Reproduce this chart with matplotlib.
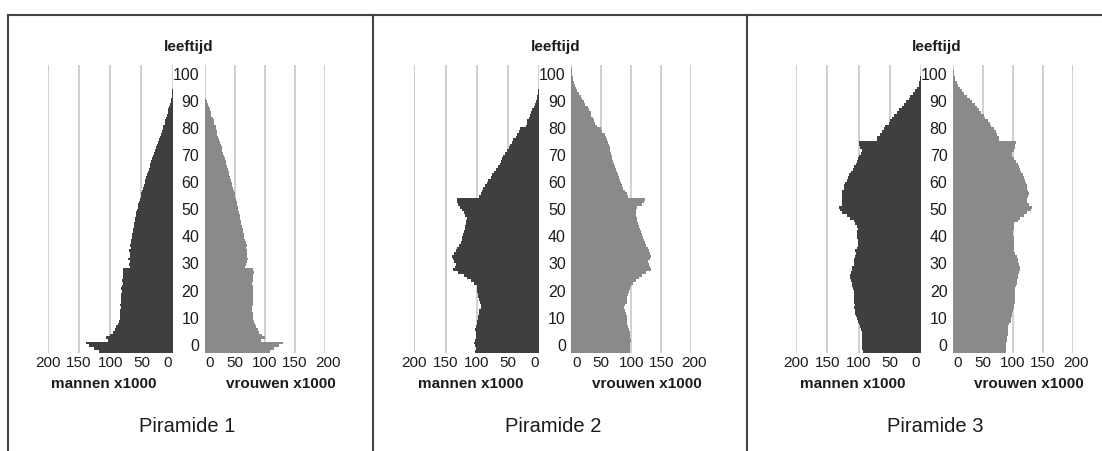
import matplotlib
matplotlib.use("Agg")
import matplotlib.pyplot as plt
from matplotlib.lines import Line2D
from matplotlib.transforms import blended_transform_factory, ScaledTranslation
import numpy as np

# bar rows from the bottom of each pyramid (one row per year)
n_rows = 106
age_ticks = [0, 10, 20, 30, 40, 50, 60, 70, 80, 90, 100]
x_ticks = [0, 50, 100, 150, 200]
titles = ["Piramide 1", "Piramide 2", "Piramide 3"]

men_1 = [118, 126, 134, 138, 104, 106, 100, 96, 93, 91,
         88, 86, 85, 85, 84, 85, 83, 84, 82, 83,
         82, 83, 81, 82, 81, 80, 81, 80, 79, 80,
         79, 68, 70, 69, 71, 69, 68, 70, 67, 68,
         66, 66, 65, 65, 64, 63, 62, 62, 61, 60,
         59, 58, 57, 56, 55, 54, 53, 51, 50, 49,
         48, 46, 45, 44, 42, 41, 40, 38, 37, 36,
         35, 33, 32, 30, 29, 27, 25, 24, 22, 21,
         19, 17, 16, 15, 13, 12, 10, 9, 8, 7,
         6, 4.5, 3.5, 2.5, 1.8, 1.2, 0.7, 0.3]
women_1 = [108, 116, 124, 130, 94, 100, 95, 90, 88, 86,
           83, 82, 81, 80, 80, 79, 79, 80, 80, 81,
           80, 81, 80, 81, 80, 79, 80, 81, 80, 82,
           81, 67, 69, 70, 72, 71, 70, 71, 69, 70,
           68, 67, 66, 65, 64, 63, 62, 61, 60, 59,
           58, 57, 56, 55, 54, 53, 52, 51, 50, 48,
           47, 46, 45, 44, 42, 41, 40, 38, 37, 36,
           35, 33, 32, 31, 29, 28, 27, 25, 24, 22,
           21, 20, 19, 18, 16, 15, 13, 11, 10, 8,
           6.5, 5, 3.5, 2.5, 1.2, 0.5]

men_2 = [103, 102, 103, 104, 103, 102, 101, 102, 103, 101,
         100, 99, 98, 98, 97, 96, 94, 93, 95, 97,
         98, 98, 99, 99, 100, 104, 110, 116, 120, 130,
         138, 135, 134, 136, 138, 139, 136, 134, 131, 128,
         126, 124, 123, 122, 120, 119, 119, 117, 118, 116,
         119, 121, 123, 127, 130, 131, 131, 96, 93, 91,
         90, 87, 84, 82, 77, 75, 72, 70, 66, 63,
         61, 59, 58, 55, 52, 49, 47, 44, 42, 38,
         35, 33, 31, 22, 20, 19, 17, 15, 13, 11,
         9, 7.5, 6, 4, 3, 2, 1.5, 1, 0.7, 0.5, 0.3]
women_2 = [97, 98, 98, 98, 99, 98, 98, 97, 96, 94,
           93, 93, 92, 92, 91, 89, 88, 90, 92, 92,
           93, 94, 96, 97, 99, 103, 107, 112, 118, 125,
           132, 131, 129, 128, 131, 132, 131, 130, 128, 125,
           122, 121, 119, 118, 116, 114, 112, 111, 110, 109,
           108, 108, 108, 110, 118, 121, 123, 94, 92, 89,
           86, 84, 82, 81, 79, 78, 76, 75, 73, 71,
           69, 68, 67, 66, 65, 64, 63, 61, 59, 58,
           56, 51, 50, 42, 40, 38, 36, 33, 32, 29,
           27, 23, 21, 18, 16, 12, 10, 8, 6, 4,
           3, 2, 1, 0.8, 0.5, 0.3]

men_3 = [93, 94, 94, 94, 95, 95, 94, 95, 96, 98,
         99, 101, 103, 104, 106, 106, 107, 106, 108, 107,
         108, 107, 108, 109, 111, 111, 112, 113, 113, 112,
         111, 110, 108, 107, 107, 106, 104, 106, 103, 101,
         101, 101, 102, 103, 102, 101, 103, 106, 108, 114,
         119, 126, 130, 131, 127, 127, 126, 126, 127, 126,
         124, 123, 121, 119, 117, 115, 112, 109, 107, 104,
         103, 101, 99, 96, 95, 98, 99, 100, 71, 70,
         66, 63, 60, 57, 52, 50, 46, 43, 39, 35,
         31, 27, 24, 20, 17, 13, 10, 7, 4, 3,
         2, 1, 0.5, 0.3]
women_3 = [88, 88, 88, 89, 90, 90, 91, 91, 91, 92,
           94, 96, 97, 98, 99, 100, 102, 102, 103, 103,
           104, 104, 104, 104, 105, 106, 107, 108, 109, 110,
           111, 111, 110, 109, 108, 106, 104, 102, 101, 101,
           101, 102, 101, 100, 100, 101, 101, 102, 108, 112,
           119, 124, 130, 131, 127, 124, 124, 125, 126, 125,
           124, 123, 122, 120, 118, 116, 114, 112, 110, 108,
           105, 102, 99, 99, 102, 103, 103, 105, 77, 76,
           73, 72, 68, 64, 61, 58, 54, 51, 47, 43,
           40, 36, 31, 28, 24, 19, 15, 11, 8, 6,
           4, 3, 2, 1, 0.5]

men = [men_1, men_2, men_3]
women = [women_1, women_2, women_3]

W, H = 1102, 451
FONT = ["Liberation Sans", "DejaVu Sans"]
TEXT_COLOR = "#1c1c1c"
MEN_COLOR = "#3f3f3f"
WOMEN_COLOR = "#8a8a8a"
GRID_COLOR = "#c4c4c4"
LINE_COLOR = "#444444"

fig = plt.figure(figsize=(W / 100, H / 100), dpi=100)


def box(x0, x1, y0, y1):
    # pixel box (y from top) -> figure fraction rect
    return [x0 / W, 1 - y1 / H, (x1 - x0) / W, (y1 - y0) / H]


def fx(x):
    return x / W


def fy(y):
    return 1 - y / H


def padded(vals):
    out = np.zeros(n_rows)
    out[:len(vals)] = vals
    return out


def half(rect, vals, color, flip):
    ax = fig.add_axes(rect)
    ax.barh(np.arange(n_rows), padded(vals), height=1.0, align="edge",
            color=color, linewidth=0, zorder=2)
    ax.set_ylim(0, n_rows)
    if flip:
        ax.set_xlim(200, 0)
    else:
        ax.set_xlim(0, 200)
    ax.set_xticks(x_ticks)
    ax.set_xticklabels([str(t) for t in x_ticks], family=FONT, fontsize=11)
    ax.set_yticks([])
    ax.tick_params(axis="x", length=0, pad=2.5, colors=TEXT_COLOR)
    ax.grid(axis="x", color=GRID_COLOR, linewidth=1.1, zorder=0)
    ax.set_axisbelow(True)
    for s in ax.spines.values():
        s.set_visible(False)
    # the "0" labels sit a little away from the centre gap
    shift = {0: (-5 if flip else 5), 200: (0 if flip else 3)}
    for t, lab in zip(x_ticks, ax.get_xticklabels()):
        if t in shift:
            lab.set_transform(lab.get_transform() +
                              ScaledTranslation(shift[t] / 100, 0, fig.dpi_scale_trans))
    return ax


left_x = [47.7, 414.3, 796.0]
top, bottom = 65.0, 352.5

for i in range(3):
    lx = left_x[i]
    half(box(lx, lx + 125, top, bottom), men[i], MEN_COLOR, True)
    half(box(lx + 157, lx + 277, top, bottom), women[i], WOMEN_COLOR, False)

    # age labels in the gap between the two halves
    lab = fig.add_axes(box(lx + 125, lx + 157, top, bottom))
    lab.set_ylim(-2.3, n_rows - 2.3)
    lab.axis("off")
    tr = blended_transform_factory(fig.transFigure, lab.transData)
    for a in age_ticks:
        lab.text(fx(lx + 151.5), a, str(a), transform=tr, ha="right",
                 va="center", family=FONT, fontsize=11.5, color=TEXT_COLOR)

    fig.text(fx(lx + 141), fy(46.7), "leeftijd", ha="center", va="center",
             family=FONT, fontsize=11, fontweight="bold", color=TEXT_COLOR)
    fig.text(fx(lx + 56.5), fy(384.5), "mannen x1000", ha="center", va="center",
             family=FONT, fontsize=11, fontweight="bold", color=TEXT_COLOR)
    fig.text(fx(lx + 233), fy(384.5), "vrouwen x1000", ha="center", va="center",
             family=FONT, fontsize=11, fontweight="bold", color=TEXT_COLOR)
    fig.text(fx(lx + 139), fy(426.7), titles[i], ha="center", va="center",
             family=FONT, fontsize=14.5, color=TEXT_COLOR)

# frame lines of the table
fig.add_artist(Line2D([fx(8), 1], [fy(15), fy(15)], color=LINE_COLOR, linewidth=1.5))
for vx in [8.3, 373.3, 746.7]:
    fig.add_artist(Line2D([fx(vx), fx(vx)], [fy(15), 0], color=LINE_COLOR, linewidth=1.5))

fig.savefig("out.png", dpi=100)
